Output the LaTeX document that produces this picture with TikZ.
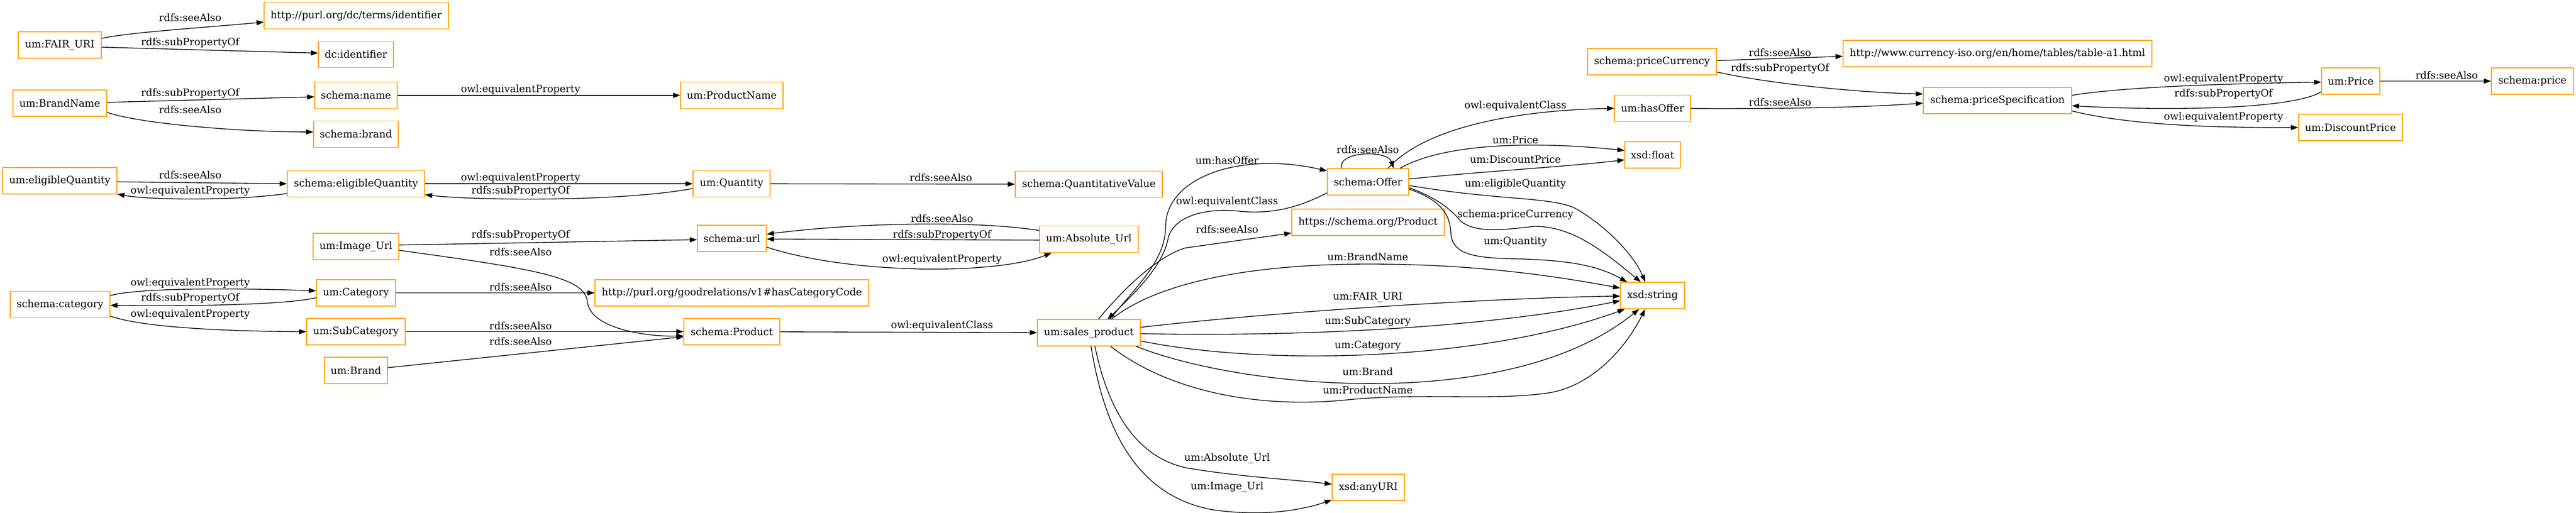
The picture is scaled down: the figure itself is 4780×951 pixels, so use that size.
\documentclass[tikz,border=0pt]{standalone}
\usepackage{fontspec}
\setmainfont{DejaVu Serif}
\usetikzlibrary{arrows.meta}
\definecolor{boxorange}{RGB}{255,165,0}

\begin{document}
\begin{tikzpicture}[->,>={Triangle[length=10pt,width=7pt]},x=0.75pt,y=-0.75pt,line width=1pt,
	box/.style={draw=boxorange,line width=1pt,minimum height=36.75pt,inner sep=0pt,font=\fontsize{14}{16}\selectfont},
	lbl/.style={inner sep=0pt,font=\fontsize{14}{16}\selectfont}]
	\useasboundingbox (0,0) rectangle (4780,951);

	\node[box,minimum width=115.5pt] (FAIR) at (111,83.5) {um:FAIR\_URI};
	\node[box,minimum width=256.5pt] (dcterms) at (661,29) {http://purl.org/dc/terms/identifier};
	\node[box,minimum width=104.25pt] (dcid) at (660.5,101) {dc:identifier};
	\node[box,minimum width=130.5pt] (BrandName) at (111,191.5) {um:BrandName};
	\node[box,minimum width=114.75pt] (sname) at (660.5,177) {schema:name};
	\node[box,minimum width=142.5pt] (ProductName) at (1358,177) {um:ProductName};
	\node[box,minimum width=117.75pt] (sbrand) at (660.5,249) {schema:brand};
	\node[box,minimum width=159pt] (eligQ) at (111,335.5) {um:eligibleQuantity};
	\node[box,minimum width=191.25pt] (seligQ) at (660.5,341) {schema:eligibleQuantity};
	\node[box,minimum width=107.25pt] (Quantity) at (1357.5,341) {um:Quantity};
	\node[box,minimum width=204.75pt] (squant) at (2020.5,342) {schema:QuantitativeValue};
	\node[box,minimum width=96pt] (surl) at (1358,442.5) {schema:url};
	\node[box,minimum width=119.25pt] (ImageUrl) at (660.5,457.5) {um:Image\_Url};
	\node[box,minimum width=137.25pt] (AbsUrl) at (2020.5,444) {um:Absolute\_Url};
	\node[box,minimum width=138.75pt] (scategory) at (111.5,565) {schema:category};
	\node[box,minimum width=110.25pt] (Category) at (660.5,543.5) {um:Category};
	\node[box,minimum width=381pt] (gr) at (1358,543.5) {http://purl.org/goodrelations/v1\#hasCategoryCode};
	\node[box,minimum width=137.25pt] (SubCategory) at (660.5,615.5) {um:SubCategory};
	\node[box,minimum width=133.5pt] (sproduct) at (1358,615.5) {schema:Product};
	\node[box,minimum width=87.75pt] (Brand) at (660.5,687.5) {um:Brand};
	\node[box,minimum width=143.25pt] (sales) at (2020.5,617.5) {um:sales\_product};
	\node[box,minimum width=113.25pt] (Offer) at (2538.5,337.5) {schema:Offer};
	\node[box,minimum width=212.25pt] (sprodurl) at (2538.5,412.5) {https://schema.org/Product};
	\node[box,minimum width=100.5pt] (anyURI) at (2539,904.5) {xsd:anyURI};
	\node[box,minimum width=89.25pt] (xstring) at (3066.5,548.5) {xsd:string};
	\node[box,minimum width=77.25pt] (xfloat) at (3066.5,287.5) {xsd:float};
	\node[box,minimum width=105.75pt] (hasOffer) at (3066.5,201) {um:hasOffer};
	\node[box,minimum width=179.25pt] (priceCurrency) at (3065.5,114.5) {schema:priceCurrency};
	\node[box,minimum width=429.75pt] (currency) at (3706.5,99.5) {http://www.currency-iso.org/en/home/tables/table-a1.html};
	\node[box,minimum width=206.25pt] (priceSpec) at (3706.5,186.5) {schema:priceSpecification};
	\node[box,minimum width=81pt] (Price) at (4362,150.5) {um:Price};
	\node[box,minimum width=114pt] (sprice) at (4699,150.5) {schema:price};
	\node[box,minimum width=144.75pt] (DiscountPrice) at (4361.5,236.5) {um:DiscountPrice};

	\draw (FAIR.9) .. controls (240,60) and (370,52) .. (dcterms.184) node[lbl,at={(353,33)}] {rdfs:seeAlso};
	\draw (FAIR.-3) -- (dcid.178) node[lbl,at={(353,79)}] {rdfs:subPropertyOf};
	\draw (BrandName.1.5) -- (sname.182) node[lbl,at={(353,173)}] {rdfs:subPropertyOf};
	\draw (BrandName.349) .. controls (260,230) and (450,245) .. (sbrand.177) node[lbl,at={(353,204)}] {rdfs:seeAlso};
	\draw (sname) -- (ProductName) node[lbl,at={(966,166)}] {owl:equivalentProperty};
	\draw (eligQ.-1) -- (seligQ.180) node[lbl,at={(353,325)}] {rdfs:seeAlso};
	\draw (seligQ.188) .. controls (450,372) and (280,372) .. (eligQ.-13) node[lbl,at={(353,354)}] {owl:equivalentProperty};
	\draw (seligQ) -- (Quantity) node[lbl,at={(966,330)}] {owl:equivalentProperty};
	\draw (Quantity.187) .. controls (1150,375) and (880,372) .. (seligQ.351.5) node[lbl,at={(966,354)}] {rdfs:subPropertyOf};
	\draw (Quantity) -- (squant) node[lbl,at={(1746,330)}] {rdfs:seeAlso};
	\draw (ImageUrl.2) -- (surl.182) node[lbl,at={(966,436)}] {rdfs:subPropertyOf};
	\draw (ImageUrl.-5) .. controls (1000,500) and (1085,515) .. (1090,560) .. controls (1095,610) and (1200,625) .. (sproduct.185.5) node[lbl,at={(966,468)}] {rdfs:seeAlso};
	\draw (AbsUrl.170) .. controls (1820,410) and (1600,412) .. (surl.7.6) node[lbl,at={(1748,406)}] {rdfs:seeAlso};
	\draw (AbsUrl.181) -- (surl.-1.3) node[lbl,at={(1748,436)}] {rdfs:subPropertyOf};
	\draw (surl.-14.5) .. controls (1580,510) and (1850,510) .. (AbsUrl.200) node[lbl,at={(1748,481)}] {owl:equivalentProperty};
	\draw (scategory.10.4) .. controls (260,533) and (450,535) .. (Category.177.3) node[lbl,at={(353,525)}] {owl:equivalentProperty};
	\draw (Category.187.4) .. controls (520,568) and (300,568) .. (scategory.-1.2) node[lbl,at={(353,553)}] {rdfs:subPropertyOf};
	\draw (scategory.-13.4) .. controls (270,610) and (450,615) .. (SubCategory.180) node[lbl,at={(353,583)}] {owl:equivalentProperty};
	\draw (Category) -- (gr) node[lbl,at={(966,533)}] {rdfs:seeAlso};
	\draw (SubCategory) -- (sproduct) node[lbl,at={(966,605)}] {rdfs:seeAlso};
	\draw (Brand.5.4) -- (sproduct.186) node[lbl,at={(966,634)}] {rdfs:seeAlso};
	\draw (sproduct) -- (sales) node[lbl,at={(1748,604)}] {owl:equivalentClass};

	\draw (sales.33) .. controls (2120,520) and (2162,480) .. (2163,420) .. controls (2163,330) and (2300,280) .. (Offer.165.5) node[lbl,at={(2277,298)}] {um:hasOffer};
	\draw (Offer.195) .. controls (2410,385) and (2360,398) .. (2300,392) .. controls (2240,385) and (2180,400) .. (2168,440) .. controls (2160,490) and (2110,540) .. (sales.36) node[lbl,at={(2277,374)}] {owl:equivalentClass};
	\draw (sales.55) .. controls (2090,530) and (2150,475) .. (2200,460) -- (sprodurl.188.6) node[lbl,at={(2277,426)}] {rdfs:seeAlso};
	\draw (Offer.153) .. controls (2482,280) and (2575,278) .. (Offer.28) node[lbl,at={(2538,278)}] {rdfs:seeAlso};
	\draw (Offer.34.6) .. controls (2640,240) and (2800,205) .. (hasOffer.180) node[lbl,at={(2812,196)}] {owl:equivalentClass};
	\draw (Offer.23.4) .. controls (2680,265) and (2850,262) .. (xfloat.171.7) node[lbl,at={(2812,260)}] {um:Price};
	\draw (Offer.4.2) .. controls (2750,318) and (2900,310) .. (xfloat.190.4) node[lbl,at={(2812,296)}] {um:DiscountPrice};
	\draw (Offer.355.8) .. controls (2780,372) and (2870,365) .. (2920,385) .. controls (2975,415) and (3030,470) .. (xstring.118.9) node[lbl,at={(2812,341)}] {um:eligibleQuantity};
	\draw (Offer.352.8) .. controls (2660,365) and (2690,385) .. (2710,410) .. controls (2740,435) and (2800,425) .. (2848,420) .. controls (2920,420) and (2980,470) .. (xstring.131.3) node[lbl,at={(2812,398)}] {schema:priceCurrency};
	\draw (Offer.350.6) .. controls (2670,370) and (2690,395) .. (2692,430) .. controls (2693,470) and (2730,478) .. (2800,480) .. controls (2900,482) and (2960,490) .. (xstring.152.2) node[lbl,at={(2812,449)}] {um:Quantity};
	\draw (sales.31) .. controls (2140,530) and (2300,490) .. (2540,490) .. controls (2750,490) and (2900,515) .. (xstring.167.2) node[lbl,at={(2538,477)}] {um:BrandName};
	\draw (sales.6.9) .. controls (2400,575) and (2800,552) .. (xstring.181.4) node[lbl,at={(2538,552)}] {um:FAIR\_URI};
	\draw (sales.-1.5) .. controls (2400,625) and (2750,610) .. (xstring.189) node[lbl,at={(2538,596)}] {um:SubCategory};
	\draw (sales.-9.2) .. controls (2350,680) and (2750,670) .. (xstring.206.8) node[lbl,at={(2538,642)}] {um:Category};
	\draw (sales.-16.7) .. controls (2300,720) and (2800,770) .. (xstring.225) node[lbl,at={(2538,690)}] {um:Brand};
	\draw (sales.-32.5) .. controls (2160,720) and (2320,760) .. (2500,742) .. controls (2640,728) and (2780,745) .. (2880,728) .. controls (2960,712) and (3020,640) .. (xstring.241.1) node[lbl,at={(2538,724)}] {um:ProductName};
	\draw (sales.-66.8) .. controls (2060,780) and (2120,850) .. (2200,868) .. controls (2300,885) and (2400,890) .. (anyURI.175.3) node[lbl,at={(2277,851)}] {um:Absolute\_Url};
	\draw (sales.-81.9) .. controls (2050,800) and (2110,920) .. (2250,946) .. controls (2350,960) and (2420,945) .. (anyURI.199.3) node[lbl,at={(2277,904)}] {um:Image\_Url};

	\draw (priceCurrency.1.2) -- (currency.181.5) node[lbl,at={(3303,98)}] {rdfs:seeAlso};
	\draw (priceCurrency.-9.3) .. controls (3280,155) and (3450,172) .. (priceSpec.175.2) node[lbl,at={(3303,127)}] {rdfs:subPropertyOf};
	\draw (hasOffer) .. controls (3300,202) and (3450,200) .. (priceSpec.182.7) node[lbl,at={(3303,190)}] {rdfs:seeAlso};
	\draw (priceSpec.4.4) .. controls (3950,160) and (4150,155) .. (Price.182.7) node[lbl,at={(4126,146)}] {owl:equivalentProperty};
	\draw (Price.200) .. controls (4250,205) and (4000,205) .. (priceSpec.-4.4) node[lbl,at={(4126,174)}] {rdfs:subPropertyOf};
	\draw (priceSpec.-8.5) .. controls (3950,232) and (4100,237) .. (DiscountPrice) node[lbl,at={(4126,217)}] {owl:equivalentProperty};
	\draw (Price) -- (sprice) node[lbl,at={(4540,140)}] {rdfs:seeAlso};
\end{tikzpicture}
\end{document}
